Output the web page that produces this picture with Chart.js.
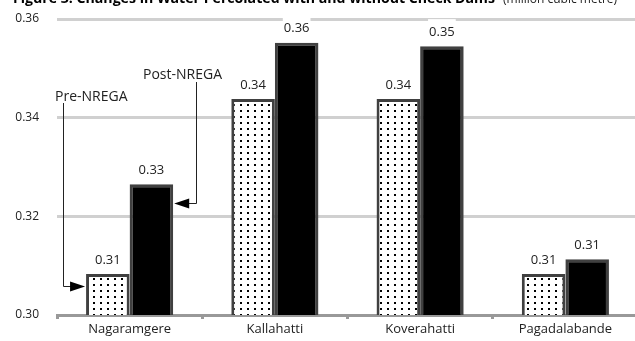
<!DOCTYPE html>
<html>
<head>
<meta charset="utf-8">
<script src="https://cdn.jsdelivr.net/npm/chart.js@4/dist/chart.umd.min.js"></script>
<style>
  html, body { margin: 0; padding: 0; background: #fff; overflow: hidden; }
  #wrap { position: absolute; left: 0; top: 0; width: 640px; height: 341px; }
</style>
</head>
<body>
<div id="wrap"><canvas id="chart" width="640" height="341"></canvas></div>
<script>
// Water percolated (million cubic metre) before and after NREGA check dams
const villages = ['Nagaramgere', 'Kallahatti', 'Koverahatti', 'Pagadalabande'];
const preNrega = [0.3083, 0.3438, 0.3438, 0.3083];
const postNrega = [0.3265, 0.3552, 0.3545, 0.3113];
const yTicks = [0.30, 0.32, 0.34, 0.36];

const FONT = '"Open Sans", "Noto Sans", sans-serif';

// Dotted fill used for the pre-NREGA bars
function dotPattern() {
  const c = document.createElement('canvas');
  c.width = 7; c.height = 6;
  const g = c.getContext('2d');
  g.fillStyle = '#fff';
  g.fillRect(0, 0, 7, 6);
  g.fillStyle = '#000';
  g.fillRect(2, 2, 2, 2);
  return g.createPattern(c, 'repeat');
}

// Figure heading at the very top edge
const headingPlugin = {
  id: 'heading',
  afterDraw(chart) {
    const ctx = chart.ctx;
    ctx.save();
    ctx.fillStyle = '#000';
    ctx.textBaseline = 'alphabetic';
    ctx.textAlign = 'left';
    ctx.font = 'bold 15px ' + FONT;
    ctx.fillText('Figure 3: Changes in Water Percolated with and without Check Dams', 13, 3, 482);
    ctx.font = '12px ' + FONT;
    ctx.fillStyle = '#222';
    ctx.fillText('(million cubic metre)', 503, 3, 120);
    ctx.restore();
  }
};

// Value labels above each bar
const valueLabelPlugin = {
  id: 'valueLabels',
  afterDatasetsDraw(chart) {
    const ctx = chart.ctx;
    ctx.save();
    ctx.font = '13px ' + FONT;
    ctx.textAlign = 'center';
    ctx.textBaseline = 'middle';
    chart.data.datasets.forEach((ds, di) => {
      chart.getDatasetMeta(di).data.forEach((bar, i) => {
        const txt = ds.data[i].toFixed(2);
        const cy = bar.y - 14;
        const w = ctx.measureText(txt).width;
        ctx.fillStyle = '#fff';
        ctx.fillRect(bar.x - w / 2 - 1, cy - 13, w + 2, 19);
        ctx.fillStyle = '#222';
        ctx.fillText(txt, bar.x, cy);
      });
    });
    ctx.restore();
  }
};

// Callout lines pointing at the first pair of bars
const calloutPlugin = {
  id: 'callouts',
  afterDatasetsDraw(chart) {
    const ctx = chart.ctx;
    const area = chart.chartArea;
    const pre = chart.getDatasetMeta(0).data[0];
    const post = chart.getDatasetMeta(1).data[0];
    const arrow = (tipX, y, dir) => {
      ctx.beginPath();
      ctx.moveTo(tipX, y);
      ctx.lineTo(tipX - dir * 15, y - 5);
      ctx.lineTo(tipX - dir * 15, y + 5);
      ctx.closePath();
      ctx.fill();
    };
    ctx.save();
    ctx.strokeStyle = '#222';
    ctx.fillStyle = '#000';
    ctx.lineWidth = 1;

    // Pre-NREGA
    const preTip = pre.x - pre.width / 2 - 1;
    const preY = Math.round(area.bottom - 29) + 0.5;
    const preLineX = area.left + 6.5;
    ctx.beginPath();
    ctx.moveTo(preLineX, 103);
    ctx.lineTo(preLineX, preY);
    ctx.lineTo(preTip - 10, preY);
    ctx.stroke();
    arrow(preTip, preY, 1);

    // Post-NREGA
    const postTip = post.x + post.width / 2 + 1;
    const postY = Math.round(post.y + 19) + 0.5;
    const postLineX = Math.round(postTip + 22) + 0.5;
    ctx.beginPath();
    ctx.moveTo(postLineX, 82);
    ctx.lineTo(postLineX, postY);
    ctx.lineTo(postTip + 10, postY);
    ctx.stroke();
    arrow(postTip, postY, -1);

    ctx.font = '14px ' + FONT;
    ctx.fillStyle = '#222';
    ctx.textBaseline = 'middle';
    ctx.textAlign = 'left';
    ctx.fillText('Pre-NREGA', area.left - 2, 97);
    ctx.fillText('Post-NREGA', area.left + 86, 75);
    ctx.restore();
  }
};

new Chart(document.getElementById('chart'), {
  type: 'bar',
  data: {
    labels: villages,
    datasets: [
      {
        label: 'Pre-NREGA',
        data: preNrega,
        backgroundColor: dotPattern(),
        borderColor: '#404040',
        borderWidth: 3,
        borderSkipped: 'bottom',
        categoryPercentage: 0.6,
        barPercentage: 1.0
      },
      {
        label: 'Post-NREGA',
        data: postNrega,
        backgroundColor: '#000',
        borderColor: '#404040',
        borderWidth: 3,
        borderSkipped: 'bottom',
        categoryPercentage: 0.6,
        barPercentage: 1.0
      }
    ]
  },
  options: {
    responsive: false,
    animation: false,
    layout: { padding: { top: 19, right: 2, bottom: 0, left: 0 } },
    plugins: {
      legend: { display: false },
      tooltip: { enabled: false },
      title: { display: false }
    },
    scales: {
      x: {
        offset: true,
        grid: {
          offset: true,
          drawOnChartArea: false,
          drawTicks: true,
          tickLength: 4,
          tickWidth: 3,
          tickColor: '#999'
        },
        border: { display: true, color: '#999', width: 3 },
        ticks: {
          color: '#222',
          font: { family: FONT, size: 13 },
          padding: 2
        },
        afterFit(scale) { scale.height = 26; }
      },
      y: {
        min: 0.30,
        max: 0.36,
        afterBuildTicks(scale) { scale.ticks = yTicks.map(v => ({ value: v })); },
        grid: {
          color: '#d0d0d0',
          lineWidth: 3,
          drawTicks: true,
          tickLength: 15,
          tickColor: 'rgba(0,0,0,0)'
        },
        border: { display: false },
        ticks: {
          color: '#222',
          font: { family: FONT, size: 12 },
          padding: 3,
          callback: v => v.toFixed(2)
        },
        afterFit(scale) { scale.width = 57; }
      }
    }
  },
  plugins: [headingPlugin, valueLabelPlugin, calloutPlugin]
});
</script>
</body>
</html>
